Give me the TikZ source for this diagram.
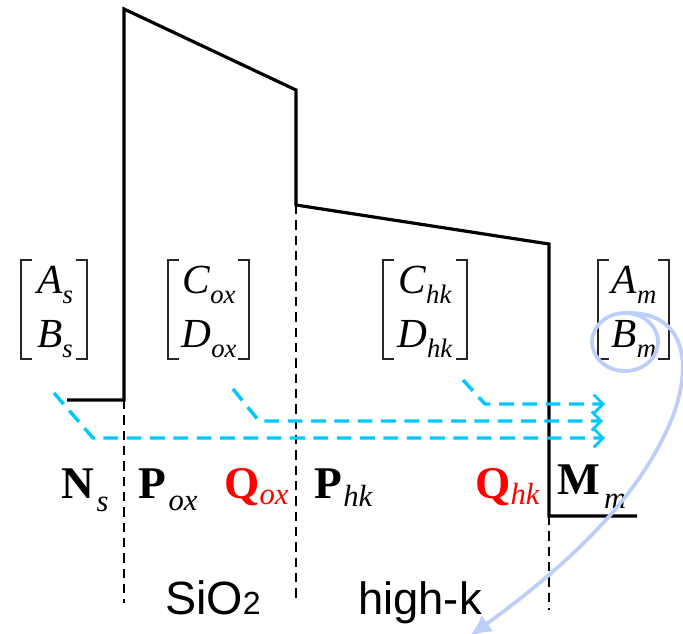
\documentclass[tikz,border=0pt]{standalone}
\usepackage{fontspec}
\setmainfont{Liberation Serif}
\newfontfamily\arialf{Liberation Sans}
\usetikzlibrary{arrows.meta}
\definecolor{cyanline}{RGB}{0,200,255}
\definecolor{loopblue}{RGB}{190,206,250}
\definecolor{qred}{RGB}{255,0,0}
\newcommand{\mentry}[2]{\fontsize{31}{32}\selectfont\textit{#1}\raisebox{-8pt}{\fontsize{20}{21}\selectfont\textit{#2}}}
% bold label: letter, gap, drop, subscript
\newcommand{\blab}[4]{{\fontsize{34}{35}\selectfont\bfseries #1}\hspace{#2}\raisebox{-#3}{\fontsize{23}{24}\selectfont\itshape #4}}
\newcommand{\mbrack}[2]{%
  \draw[brk] (#1+11,260) -- (#1,260) -- (#1,359) -- (#1+11,359);
  \draw[brk] (#2-11,260) -- (#2,260) -- (#2,359) -- (#2-11,359);}
\begin{document}
\begin{tikzpicture}[x=0.75pt,y=-0.75pt,
  band/.style={line width=2.4pt,black,line join=miter},
  brk/.style={line width=1.4pt,black!85},
  vdash/.style={line width=1.5pt,black,dash pattern=on 7pt off 4.5pt},
  cyarrow/.style={line width=2.6pt,cyanline,dash pattern=on 11pt off 6.5pt,
    -{Straight Barb[length=7pt,width=14pt,line width=2pt]}},
  loop/.style={line width=2.8pt,loopblue},
  lab/.style={anchor=base west,inner sep=0pt}]
\useasboundingbox (0,0) rectangle (683,633);
% band diagram
\draw[band] (67,400) -- (124,400) -- (124,9) -- (296,90) -- (296,205) -- (549,244) -- (549,516) -- (637,516);
% interface dashed lines
\draw[vdash] (124,400) -- (124,603);
\draw[vdash] (296,205) -- (296,600);
\draw[vdash] (549,516) -- (549,610);
% matrices
\mbrack{21}{87}
\mbrack{168}{249}
\mbrack{383}{467}
\mbrack{598}{669}
\node[anchor=base,inner sep=0pt] (As) at (55,293) {\mentry{A}{s}};
\node[anchor=base,inner sep=0pt] (Bs) at (55,347) {\mentry{B}{s}};
\node[anchor=base,inner sep=0pt] (Cox) at (209,293) {\mentry{C}{ox}};
\node[anchor=base,inner sep=0pt] (Dox) at (209,347) {\mentry{D}{ox}};
\node[anchor=base,inner sep=0pt] (Chk) at (425,293) {\mentry{C}{hk}};
\node[anchor=base,inner sep=0pt] (Dhk) at (425,347) {\mentry{D}{hk}};
\node[anchor=base,inner sep=0pt] (Am) at (634,293) {\mentry{A}{m}};
\node[anchor=base,inner sep=0pt] (Bm) at (634,347) {\mentry{B}{m}};
% cyan transfer arrows
\coordinate (a1s) at (54,393); \coordinate (a1c) at (93,438); \coordinate (a1e) at (605,438);
\coordinate (a2s) at (233,389); \coordinate (a2c) at (259,421); \coordinate (a2e) at (603,421);
\coordinate (a3s) at (463,380); \coordinate (a3c) at (485,404); \coordinate (a3e) at (605,404);
\draw[cyarrow] (a1s) -- (a1c) -- (a1e);
\draw[cyarrow] (a2s) -- (a2c) -- (a2e);
\draw[cyarrow] (a3s) -- (a3c) -- (a3e);
% labels
\node[lab] (Ns) at (61,498) {\blab{N}{2pt}{10pt}{s}};
\node[lab] (Pox) at (138,498) {\blab{P}{2pt}{9pt}{ox}};
\node[lab,text=qred] (Qox) at (224,498) {\blab{Q}{0pt}{5pt}{ox}};
\node[lab] (Phk) at (314,498) {\blab{P}{1pt}{6pt}{hk}};
\node[lab,text=qred] (Qhk) at (475,498) {\blab{Q}{0pt}{5pt}{hk}};
\node[lab] (Mm) at (557,494) {\blab{M}{3pt}{11pt}{m}};
% material names
\node[anchor=base,inner sep=0pt,font=\arialf\fontsize{35}{36}\selectfont] (sio2) at (213,614) {SiO{\fontsize{24}{24}\selectfont 2}};
\node[anchor=base,inner sep=0pt,font=\arialf\fontsize{34}{35}\selectfont] (hk) at (420,614) {high-k};
% blue loop arrow
\draw[loop] (625,342) ellipse [x radius=33, y radius=29];
\coordinate (lp0) at (626,313);
\coordinate (lp1) at (662,440);
\coordinate (lp2) at (470,636);
\draw[loop,-{Latex[length=16pt,width=15pt]}] (lp0) .. controls (694,311) and (694,380) .. (lp1) .. controls (622,520) and (540,585) .. (lp2);
\end{tikzpicture}
\end{document}
